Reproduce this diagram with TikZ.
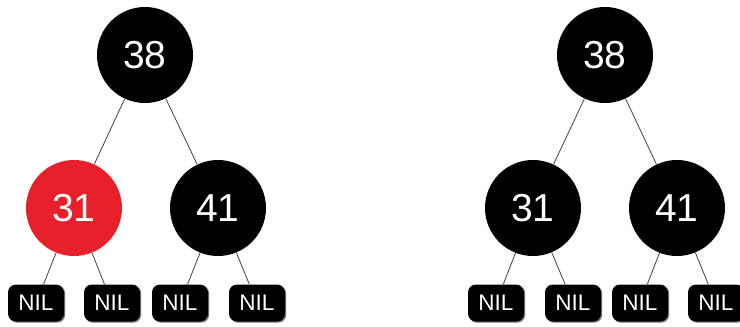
\documentclass[tikz,border=0pt]{standalone}
\usepackage{fontspec}
\setmainfont{Liberation Sans}
\usetikzlibrary{positioning,calc,shadows}
\definecolor{rbred}{RGB}{232,32,44}

\begin{document}
\begin{tikzpicture}[
    x=1pt, y=-1pt,
    rbnode/.style={circle, fill=black, text=white,
                   minimum size=96pt, inner sep=0pt,
                   font=\fontsize{39}{39}\selectfont},
    nilbox/.style={rounded corners=8pt, fill=black, text=white,
                   minimum width=56pt, minimum height=37pt, inner sep=0pt,
                   drop shadow={shadow xshift=1.2pt, shadow yshift=-1.2pt, fill=black!55, opacity=1},
                   font=\fontsize{22.5}{22.5}\selectfont},
    link/.style={-, line width=0.8pt, draw=black!75}
]
\useasboundingbox (0,0) rectangle (740,327);

% left tree
\node[rbnode] (a38) at (145,55) {38};
\node[rbnode, fill=rbred] (a31) at (74,208) {31};
\node[rbnode] (a41) at (218,208) {41};
\node[nilbox] (a1) at (36,303) {NIL};
\node[nilbox] (a2) at (112,303) {NIL};
\node[nilbox] (a3) at (180,303) {NIL};
\node[nilbox] (a4) at (257,303) {NIL};

% right tree
\node[rbnode] (b38) at (605,55) {38};
\node[rbnode] (b31) at (533,208) {31};
\node[rbnode] (b41) at (677,208) {41};
\node[nilbox] (b1) at (496,303) {NIL};
\node[nilbox] (b2) at (573,303) {NIL};
\node[nilbox] (b3) at (640,303) {NIL};
\node[nilbox] (b4) at (716,303) {NIL};

\foreach \t in {a,b} {
    \draw[link] (\t38) -- (\t31);
    \draw[link] (\t38) -- (\t41);
    \draw[link] (\t31) -- (\t1);
    \draw[link] (\t31) -- (\t2);
    \draw[link] (\t41) -- (\t3);
    \draw[link] (\t41) -- (\t4);
}
\end{tikzpicture}
\end{document}
